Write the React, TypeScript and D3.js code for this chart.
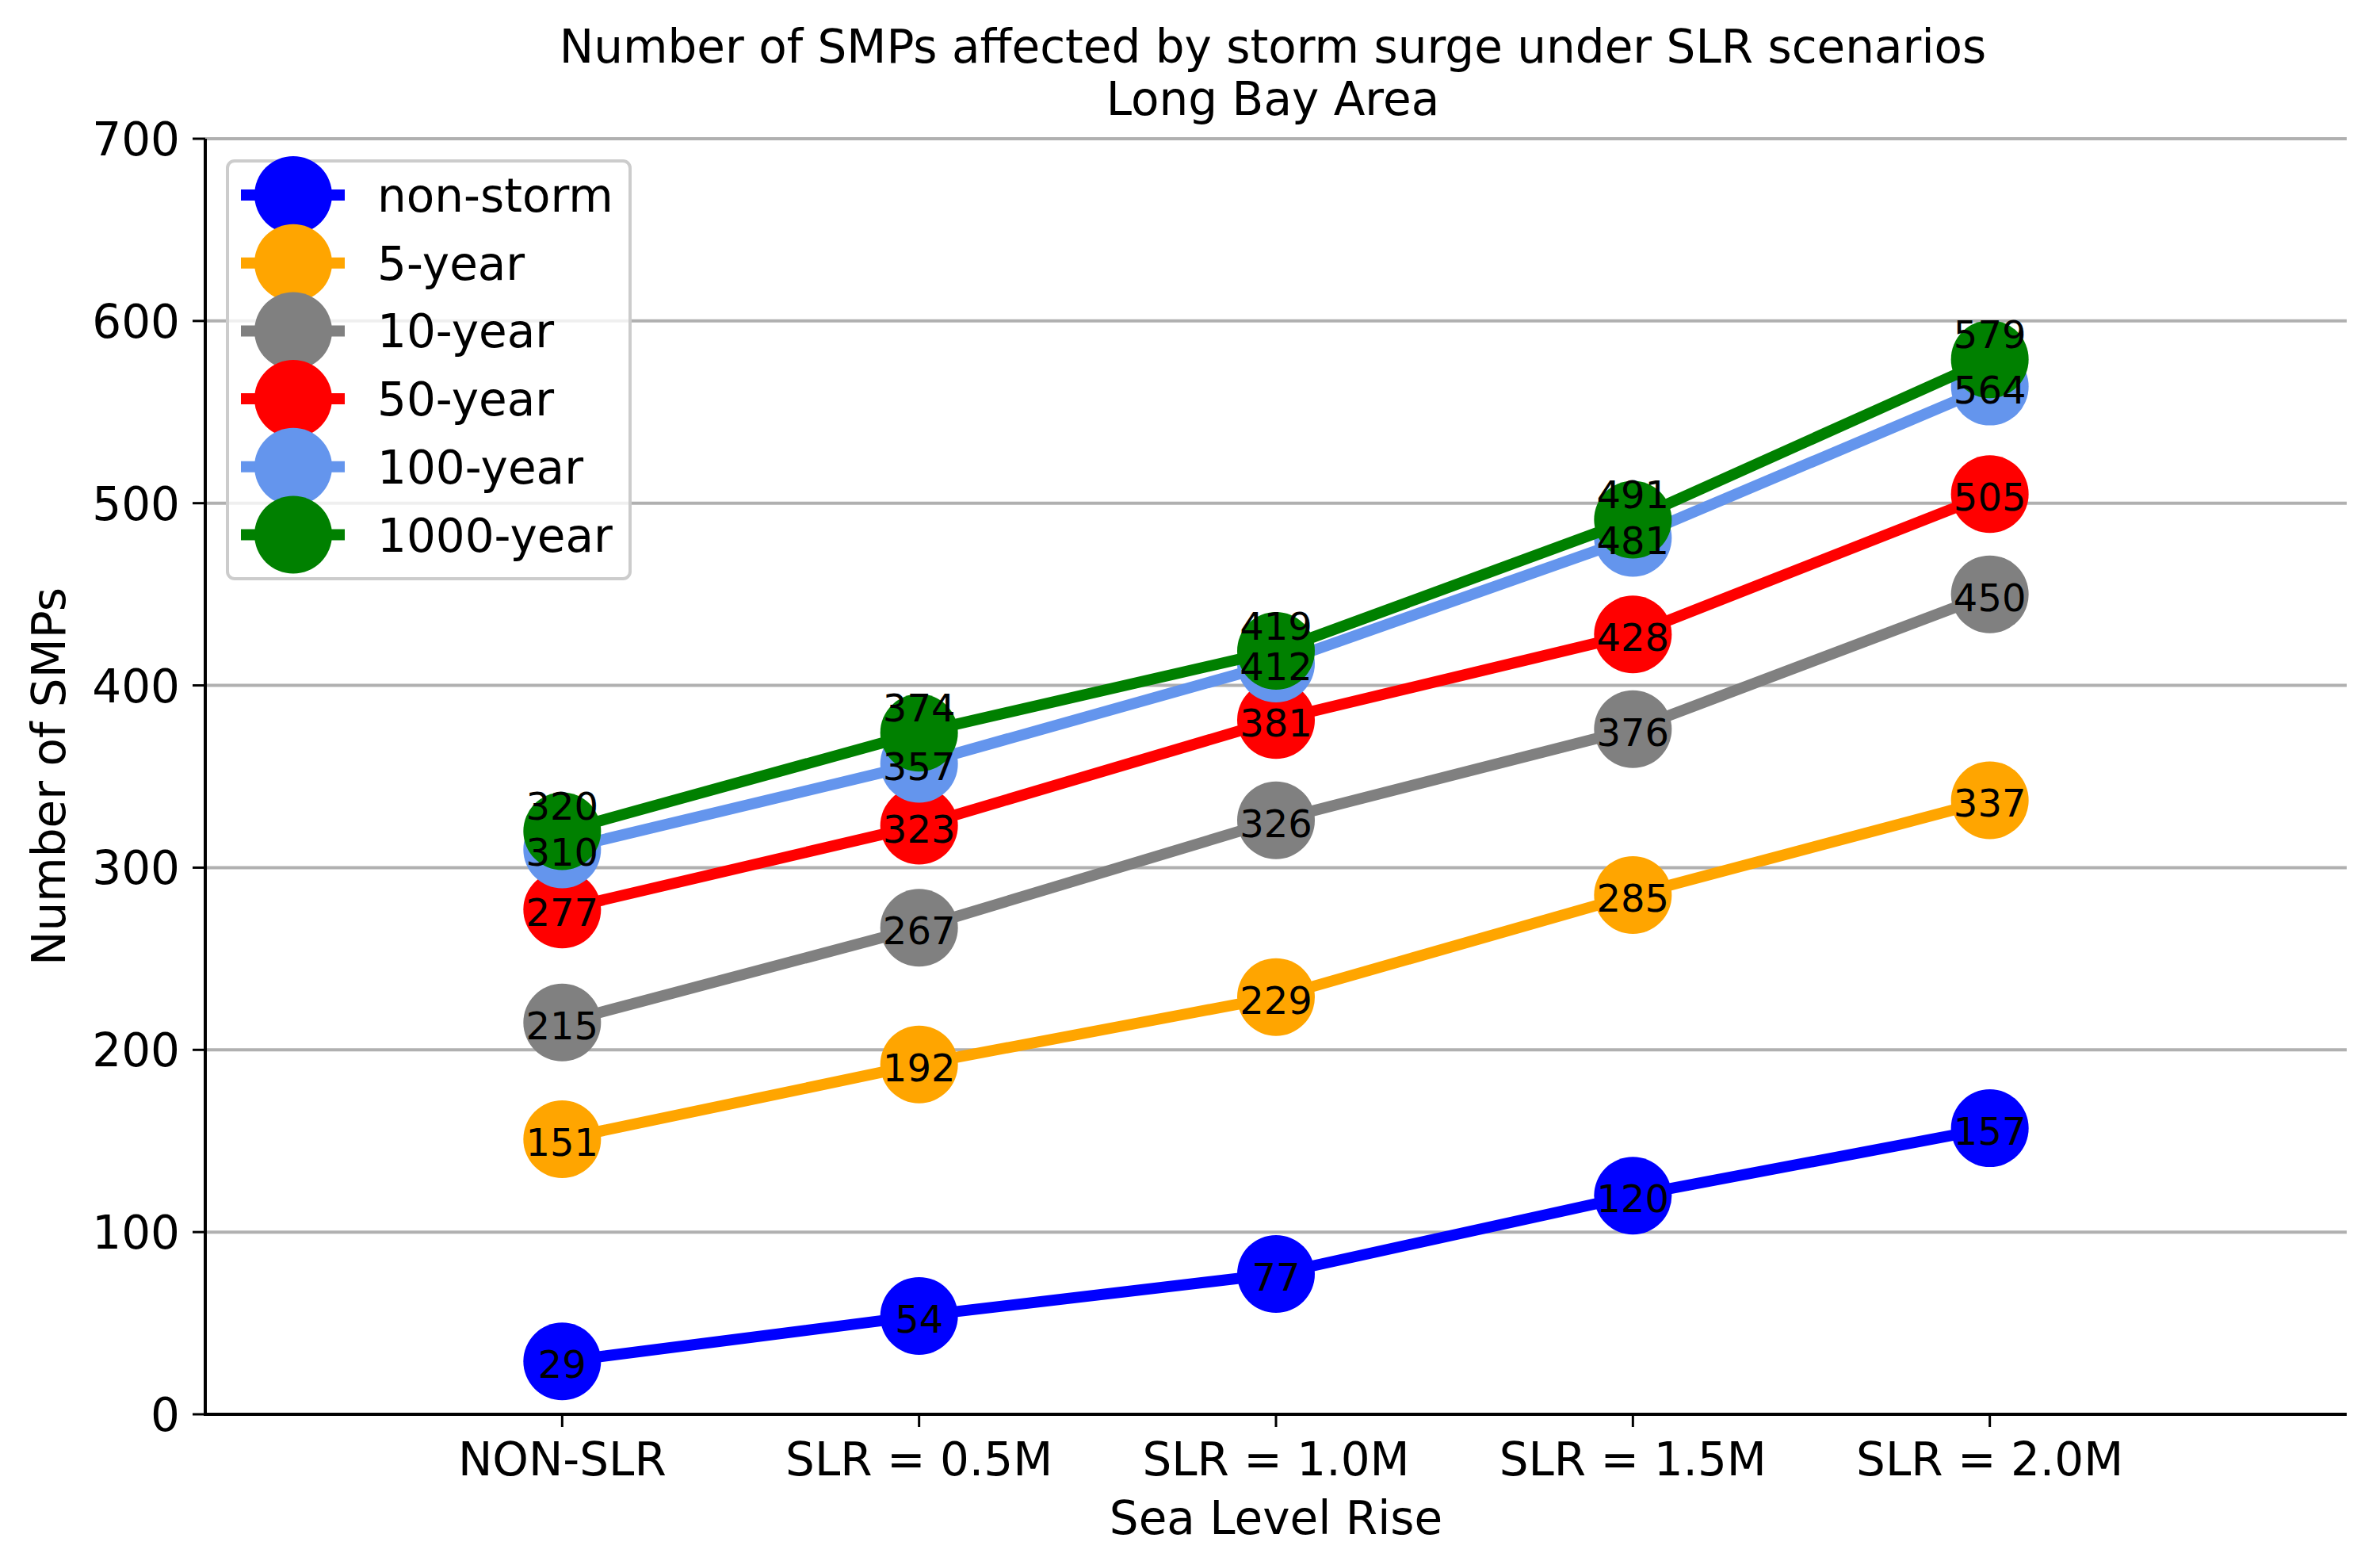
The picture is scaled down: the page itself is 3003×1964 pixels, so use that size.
import * as d3 from "d3";

const width = 3003;
const height = 1964;
const margin = { top: 175, right: 42, bottom: 180, left: 259 };

const scenarios = ["NON-SLR", "SLR = 0.5M", "SLR = 1.0M", "SLR = 1.5M", "SLR = 2.0M"];
const seriesNames = ["non-storm", "5-year", "10-year", "50-year", "100-year", "1000-year"];
const seriesColors = ["#0000ff", "#ffa500", "#808080", "#ff0000", "#6495ed", "#008000"];

const nonStorm = [29, 54, 77, 120, 157];
const year5 = [151, 192, 229, 285, 337];
const year10 = [215, 267, 326, 376, 450];
const year50 = [277, 323, 381, 428, 505];
const year100 = [310, 357, 412, 481, 564];
const year1000 = [320, 374, 419, 491, 579];

const yTicks = [0, 100, 200, 300, 400, 500, 600, 700];

const seriesValues = [nonStorm, year5, year10, year50, year100, year1000];

const font = "DejaVu Sans, sans-serif";
const fs = 58;

const App = () => {
  const x = d3
    .scalePoint()
    .domain(scenarios)
    .range([margin.left, width - margin.right])
    .padding(1);
  const y = d3
    .scaleLinear()
    .domain([0, 700])
    .range([height - margin.bottom, margin.top]);

  const line = d3
    .line<number>()
    .x((_, i) => x(scenarios[i]) as number)
    .y((d) => y(d));

  const x0 = margin.left;
  const x1 = width - margin.right;
  const yBottom = y(0);
  const cx = (x0 + x1) / 2;
  const r = 49;

  // legend layout
  const legX = 287;
  const legY = 203;
  const legW = 508;
  const legH = 527;
  const legRow0 = 246;
  const legStep = 85.7;

  return (
    <svg
      width={width}
      height={height}
      style={{ position: "absolute", left: 0, top: 0, background: "#fff" }}
      fontFamily={font}
    >
      <rect width={width} height={height} fill="#fff" />

      {/* title */}
      <text x={cx - 4} y={79} fontSize={fs} textAnchor="middle">
        Number of SMPs affected by storm surge under SLR scenarios
      </text>
      <text x={cx - 4} y={145} fontSize={fs} textAnchor="middle">
        Long Bay Area
      </text>

      {/* grid */}
      {yTicks.map((t) => (
        <line key={t} x1={x0} x2={x1} y1={y(t)} y2={y(t)} stroke="#b0b0b0" strokeWidth={4} />
      ))}

      {/* series */}
      {seriesValues.map((vals, s) => (
        <g key={seriesNames[s]}>
          <path d={line(vals) as string} fill="none" stroke={seriesColors[s]} strokeWidth={14} strokeLinejoin="round" />
          {vals.map((v, i) => (
            <circle key={i} cx={x(scenarios[i])} cy={y(v)} r={r} fill={seriesColors[s]} />
          ))}
        </g>
      ))}

      {/* value labels */}
      {seriesValues.map((vals, s) =>
        vals.map((v, i) => (
          <text
            key={`${s}-${i}`}
            x={x(scenarios[i])}
            y={y(v) + (s === 5 ? -14 : 21)}
            fontSize={48}
            textAnchor="middle"
            fill="#000"
          >
            {v}
          </text>
        ))
      )}

      {/* spines */}
      <line x1={x0} x2={x0} y1={margin.top} y2={yBottom} stroke="#000" strokeWidth={4} />
      <line x1={x0 - 2} x2={x1} y1={yBottom} y2={yBottom} stroke="#000" strokeWidth={4} />

      {/* y axis */}
      {yTicks.map((t) => (
        <g key={t}>
          <line x1={x0 - 16} x2={x0} y1={y(t)} y2={y(t)} stroke="#000" strokeWidth={3} />
          <text x={x0 - 32} y={y(t) + 21} fontSize={fs} textAnchor="end">
            {t}
          </text>
        </g>
      ))}

      {/* x axis */}
      {scenarios.map((c) => (
        <g key={c}>
          <line x1={x(c)} x2={x(c)} y1={yBottom} y2={yBottom + 16} stroke="#000" strokeWidth={3} />
          <text x={x(c)} y={1861} fontSize={fs} textAnchor="middle">
            {c}
          </text>
        </g>
      ))}

      <text x={cx} y={1935} fontSize={fs} textAnchor="middle">
        Sea Level Rise
      </text>
      <text transform={`translate(82, ${(margin.top + yBottom) / 2}) rotate(-90)`} fontSize={fs} textAnchor="middle">
        Number of SMPs
      </text>

      {/* legend */}
      <rect x={legX} y={legY} width={legW} height={legH} rx={9} fill="#fff" fillOpacity={0.8} stroke="#cccccc" strokeWidth={4} />
      {seriesNames.map((name, s) => {
        const ly = legRow0 + s * legStep;
        return (
          <g key={name}>
            <line x1={304} x2={435} y1={ly} y2={ly} stroke={seriesColors[s]} strokeWidth={14} />
            <circle cx={370} cy={ly} r={r} fill={seriesColors[s]} />
            <text x={476} y={ly + 21} fontSize={fs}>
              {name}
            </text>
          </g>
        );
      })}
    </svg>
  );
};

export default App;
